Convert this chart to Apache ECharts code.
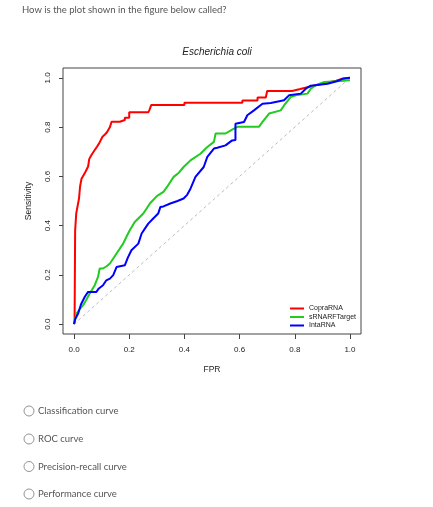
<!DOCTYPE html>
<html>
<head>
<meta charset="utf-8">
<script src="https://cdn.jsdelivr.net/npm/echarts@6/dist/echarts.min.js"></script>
<style>
html,body{margin:0;padding:0;background:#fff;}
#chart{width:433px;height:507px;}
</style>
</head>
<body>
<div id="chart"></div>
<script>
const questionText = 'How is the plot shown in the figure below called?';
const plotTitle = 'Escherichia coli';
const xName = 'FPR';
const yName = 'Sensitivity';
const xTicks = [0, 0.2, 0.4, 0.6, 0.8, 1.0];
const yTicks = [0, 0.2, 0.4, 0.6, 0.8, 1.0];
const seriesNames = ['CopraRNA', 'sRNARFTarget', 'IntaRNA'];
const seriesColors = ['#ff0000', '#1fcc1f', '#0000ff'];
const options = ['Classification curve', 'ROC curve', 'Precision-recall curve', 'Performance curve'];

// [FPR, TPR] points
const copraRNA = [
  [0,0],[0.002,0.01],[0.003,0.2],[0.004,0.38],[0.008,0.45],[0.018,0.51],[0.022,0.56],[0.027,0.59],
  [0.035,0.606],[0.042,0.62],[0.051,0.64],[0.055,0.67],[0.063,0.687],[0.075,0.707],[0.083,0.72],
  [0.091,0.734],[0.103,0.761],[0.112,0.77],[0.12,0.78],[0.13,0.80],[0.136,0.822],[0.166,0.822],
  [0.166,0.829],[0.184,0.829],[0.184,0.838],[0.2,0.838],[0.2,0.86],[0.269,0.86],[0.273,0.869],
  [0.278,0.869],[0.28,0.89],[0.40,0.89],[0.40,0.899],[0.61,0.899],[0.61,0.908],[0.665,0.908],
  [0.665,0.92],[0.695,0.92],[0.70,0.947],[0.79,0.947],[0.82,0.955],[0.86,0.966],[0.9,0.976],
  [0.95,0.988],[0.97,0.996],[1,1]
];
const sRNARFTarget = [
  [0,0],[0.004,0.02],[0.009,0.043],[0.02,0.06],[0.033,0.077],[0.045,0.1],[0.057,0.124],[0.075,0.158],
  [0.087,0.192],[0.093,0.226],[0.105,0.226],[0.118,0.235],[0.13,0.246],[0.154,0.287],[0.178,0.327],
  [0.19,0.355],[0.202,0.381],[0.22,0.415],[0.251,0.449],[0.275,0.49],[0.3,0.52],[0.324,0.537],
  [0.337,0.557],[0.361,0.598],[0.38,0.615],[0.397,0.638],[0.422,0.665],[0.458,0.692],[0.483,0.719],
  [0.507,0.74],[0.513,0.774],[0.549,0.774],[0.573,0.79],[0.592,0.801],[0.67,0.801],[0.683,0.821],
  [0.707,0.855],[0.749,0.868],[0.761,0.888],[0.785,0.922],[0.804,0.929],[0.846,0.936],[0.858,0.956],
  [0.876,0.97],[0.907,0.983],[0.967,0.987],[1,0.99]
];
const intaRNA = [
  [0,0],[0.004,0.02],[0.015,0.043],[0.025,0.08],[0.039,0.111],[0.051,0.131],[0.081,0.131],[0.09,0.145],
  [0.105,0.158],[0.117,0.178],[0.13,0.185],[0.142,0.199],[0.154,0.232],[0.184,0.239],[0.195,0.27],
  [0.208,0.30],[0.233,0.327],[0.245,0.368],[0.258,0.39],[0.269,0.408],[0.287,0.429],[0.305,0.449],
  [0.313,0.476],[0.324,0.478],[0.349,0.49],[0.375,0.5],[0.397,0.51],[0.41,0.525],[0.422,0.55],
  [0.44,0.598],[0.47,0.638],[0.483,0.679],[0.507,0.713],[0.519,0.716],[0.549,0.726],[0.573,0.746],
  [0.585,0.748],[0.585,0.814],[0.616,0.821],[0.628,0.848],[0.652,0.868],[0.683,0.895],[0.713,0.898],
  [0.761,0.909],[0.779,0.929],[0.822,0.936],[0.84,0.956],[0.858,0.968],[0.919,0.976],[0.955,0.987],
  [0.973,0.996],[1,1]
];
const diagonal = [[0,0],[1,1]];
const seriesData = [copraRNA, sRNARFTarget, intaRNA];

const chart = echarts.init(document.getElementById('chart'), null, {renderer: 'canvas'});
const plotFont = '"Liberation Sans", Arial, Helvetica, sans-serif';
const pageFont = 'Lato, "Open Sans", sans-serif';

const optionYs = [411, 439, 466.5, 494];
const graphics = [
  {type: 'text', left: 22, top: 5, style: {text: questionText, font: '9.5px ' + pageFont, fill: '#555'}}
];
options.forEach((t, i) => {
  graphics.push({type: 'circle', shape: {cx: 29, cy: optionYs[i], r: 5}, style: {fill: '#fff', stroke: '#888', lineWidth: 0.9}});
  graphics.push({type: 'text', x: 38, y: optionYs[i], style: {text: t, font: '9.5px ' + pageFont, fill: '#555', verticalAlign: 'middle'}});
});

const axisCommon = {
  type: 'value', min: -0.04, max: 1.04,
  splitLine: {show: false},
  axisLine: {show: false, onZero: false},
  nameLocation: 'middle',
  nameTextStyle: {fontFamily: plotFont, fontSize: 8.5, color: '#222'}
};

const series = [{
  type: 'line', data: diagonal, showSymbol: false, silent: true,
  lineStyle: {color: '#bbb', width: 1, type: [3, 3]}, z: 1
}];
seriesData.forEach((d, i) => {
  series.push({
    name: seriesNames[i], type: 'line', data: d, showSymbol: false,
    lineStyle: {color: seriesColors[i], width: 2}, itemStyle: {color: seriesColors[i]}, z: 2 + i
  });
});

chart.setOption({
  animation: false,
  backgroundColor: '#fff',
  title: {
    text: plotTitle, left: 212, top: 42, textAlign: 'center',
    textStyle: {fontFamily: plotFont, fontStyle: 'italic', fontWeight: 'normal', fontSize: 10, color: '#222'}
  },
  graphic: graphics,
  grid: {left: 63, top: 68, width: 298, height: 266, show: true, borderColor: '#444', borderWidth: 1, backgroundColor: 'transparent'},
  legend: {
    orient: 'vertical', left: 290, top: 305, padding: 0, itemGap: 1.5,
    itemWidth: 14, itemHeight: 2, icon: 'rect',
    data: seriesNames,
    textStyle: {fontFamily: plotFont, fontSize: 7, color: '#222', lineHeight: 7}
  },
  xAxis: Object.assign({}, axisCommon, {
    position: 'bottom',
    name: xName, nameGap: 31,
    axisTick: {show: true, inside: false, length: 5, customValues: xTicks, lineStyle: {color: '#444'}},
    axisLabel: {customValues: xTicks, margin: 12, fontFamily: plotFont, fontSize: 8, color: '#222', formatter: v => v.toFixed(1)}
  }),
  yAxis: Object.assign({}, axisCommon, {
    position: 'left',
    name: yName, nameGap: 30, nameRotate: 90,
    axisTick: {show: true, inside: false, length: 4, customValues: yTicks, lineStyle: {color: '#444'}},
    axisLabel: {customValues: yTicks, rotate: 90, margin: 11, fontFamily: plotFont, fontSize: 8, color: '#222', formatter: v => v.toFixed(1)}
  }),
  series: series
});
</script>
</body>
</html>
